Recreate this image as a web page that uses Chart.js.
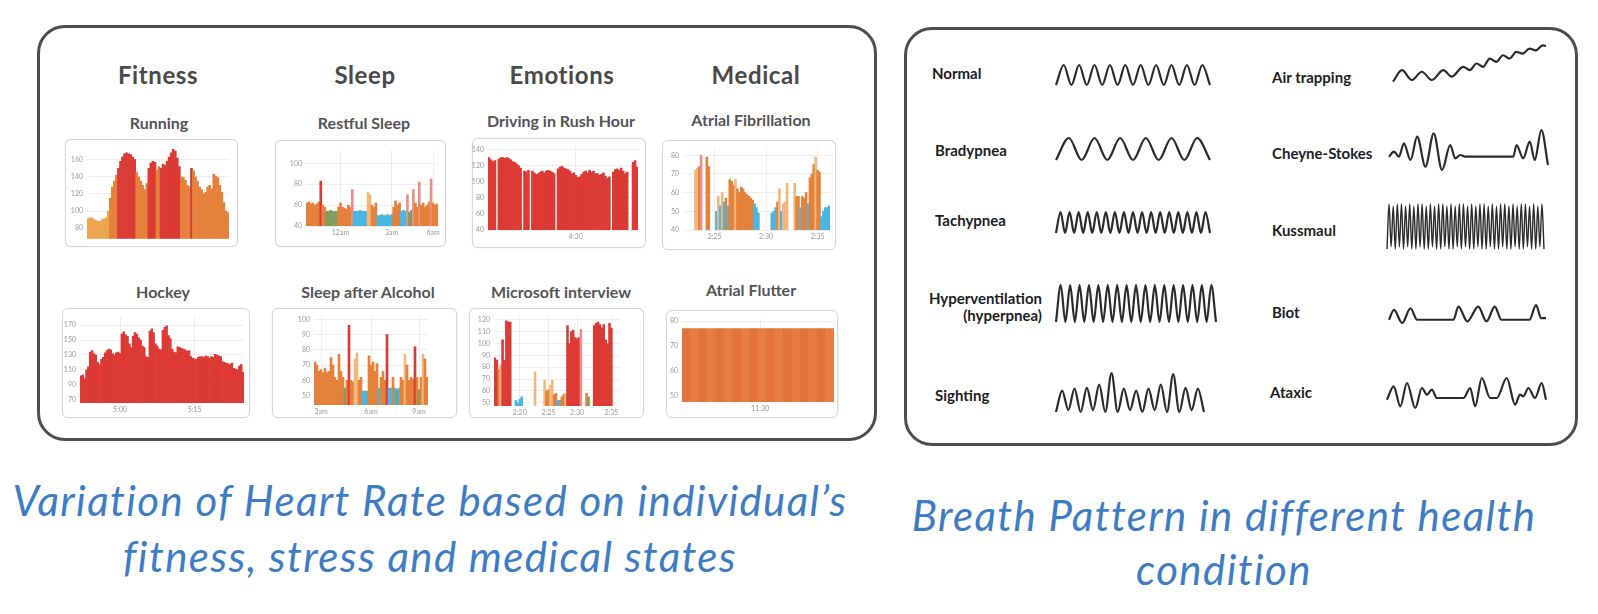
<!DOCTYPE html>
<html><head><meta charset="utf-8">
<script src="https://cdn.jsdelivr.net/npm/chart.js@4.4.1/dist/chart.umd.min.js"></script>
<style>
html,body{margin:0;padding:0;background:#fff;}
#page{position:relative;width:1598px;height:614px;overflow:hidden;font-family:Lato,'Open Sans',sans-serif;}
.panel{position:absolute;border:3px solid #4d4d4d;border-radius:28px;box-sizing:border-box;}
.box{position:absolute;border:1px solid #d6d6d6;border-radius:6px;box-sizing:border-box;background:#fff;box-shadow:0 0 2px rgba(0,0,0,.10);}
.t{position:absolute;white-space:nowrap;line-height:1.2;}
canvas{position:absolute;}
</style></head><body><div id="page"></div>
<script>
// ---------------- DATA: heart-rate mini charts ----------------
const runningHR = [91,92,92,90,89,88,88,90,91,92,100,115,128,135,142,150,158,163,167,168,167,166,163,160,145,140,135,130,125,132,150,156,158,157,148,152,150,155,153,158,163,168,172,170,162,152,140,139,136,130,128,150,147,140,135,128,125,120,122,128,130,126,143,141,139,130,122,110,100,98];
const runningZones = [[11,'L'],[4,'O'],[9,'R'],[6,'O'],[4,'R'],[2,'O'],[10,'R'],[5,'O'],[1,'R'],[18,'O']];
const runningYTicks = [80,100,120,140,160];
const runningXTicks = [];

const restfulHR = [62,63,61,62,60,61,63,83,60,58,54,54,55,54,54,54,58,62,58,57,56,60,58,75,54,54,54,55,54,54,54,72,70,60,58,62,50,50,51,50,50,51,50,51,58,64,60,62,54,55,54,70,53,55,75,62,58,82,60,62,58,60,63,85,62,60,61];
const restfulZones = [[7,'O'],[1,'R'],[2,'O'],[6,'G'],[7,'O'],[1,'P'],[7,'B'],[2,'Y'],[3,'O'],[8,'B'],[4,'O'],[3,'B'],[1,'P'],[2,'G'],[1,'P'],[2,'O'],[1,'P'],[5,'O'],[1,'P'],[3,'O']];
const restfulYTicks = [40,60,80,100];
const restfulXTicks = [[17,'12am'],[43,'3am'],[64,'6am']];

const drivingHR = [130,127,125,126,null,128,130,130,129,130,129,127,125,124,122,120,117,null,113,112,114,null,113,111,109,110,112,113,111,113,114,113,112,110,null,116,118,119,117,116,115,113,110,111,108,105,106,109,112,113,111,114,112,113,110,110,108,109,111,107,104,106,null,112,115,116,114,117,113,110,112,null,null,124,126,118];
const drivingZones = [[76,'R']];
const drivingYTicks = [40,60,80,100,120,140];
const drivingXTicks = [[44,'4:30']];

const afibHR = [null,null,null,null,null,null,72,73,74,80,null,null,79,74,null,null,null,50,58,53,60,55,57,53,67,66,64,67,62,60,63,62,60,59,58,57,56,54,52,49,null,null,null,null,null,null,49,50,52,55,62,50,54,55,65,null,null,null,65,58,58,52,58,57,60,54,68,70,75,79,72,71,47,50,52,52,53];
const afibZones = [[6,'-'],[2,'Y'],[1,'O'],[1,'P'],[2,'-'],[2,'O'],[3,'-'],[1,'B'],[1,'Y'],[1,'B'],[1,'Y'],[1,'B'],[1,'O'],[1,'B'],[3,'O'],[1,'Y'],[2,'O'],[7,'O'],[3,'B'],[6,'-'],[3,'B'],[1,'O'],[1,'Y'],[1,'B'],[1,'Y'],[1,'Y'],[1,'Y'],[1,'-'],[2,'-'],[1,'Y'],[1,'O'],[1,'O'],[1,'B'],[2,'O'],[1,'O'],[1,'B'],[2,'O'],[1,'O'],[1,'Y'],[2,'O'],[3,'B'],[2,'B']];
const afibYTicks = [40,50,60,70,80];
const afibXTicks = [[16,'2:25'],[43,'2:30'],[70,'2:35']];

const hockeyHR = [102,103,98,110,114,134,136,132,130,120,117,124,127,133,136,138,137,132,130,133,134,132,158,161,157,155,145,140,155,160,158,153,150,142,140,128,127,162,165,160,145,142,138,137,163,167,169,156,152,138,134,133,141,140,139,138,137,135,136,128,126,125,124,127,128,128,127,129,128,126,128,127,131,130,129,128,121,120,119,118,117,119,112,111,110,115,117,107];
const hockeyZones = [[88,'R']];
const hockeyYTicks = [70,90,110,130,150,170];
const hockeyXTicks = [[21,'5:00'],[61,'5:15']];

const alcoholHR = [72,70,66,67,65,68,65,66,75,70,62,60,77,66,62,55,60,96,60,59,74,78,60,62,53,53,53,76,70,72,66,71,55,62,66,60,90,55,55,62,55,54,55,62,60,77,70,60,62,61,82,62,54,62,77,74,62];
const alcoholZones = [[15,'O'],[1,'G'],[1,'O'],[1,'R'],[2,'O'],[2,'Y'],[2,'O'],[3,'B'],[5,'O'],[1,'B'],[3,'O'],[1,'R'],[2,'B'],[1,'O'],[1,'B'],[1,'G'],[1,'B'],[2,'O'],[1,'Y'],[4,'O'],[1,'R'],[1,'O'],[1,'G'],[1,'O'],[1,'Y'],[2,'O']];
const alcoholYTicks = [50,60,70,80,90,100];
const alcoholXTicks = [[3,'3am'],[28,'6am'],[52,'9am']];

const interviewHR = [88,86,78,82,103,86,119,118,118,null,null,52,50,53,55,null,null,null,null,null,null,76,null,null,null,null,69,60,61,65,69,57,58,52,52,55,57,58,115,100,110,111,105,104,105,112,null,null,58,55,null,null,115,117,118,116,113,116,103,100,117,113,null,null,null,null];
const interviewZones = [[2,'R'],[1,'O'],[1,'Y'],[5,'R'],[2,'-'],[4,'B'],[6,'-'],[1,'Y'],[4,'-'],[1,'Y'],[2,'O'],[1,'Y'],[1,'Y'],[2,'O'],[2,'B'],[2,'O'],[1,'Y'],[7,'R'],[1,'P'],[2,'-'],[1,'O'],[1,'G'],[2,'-'],[10,'R'],[4,'-']];
const interviewYTicks = [50,60,70,80,90,100,110,120];
const interviewXTicks = [[13,'2:20'],[28,'2:25'],[43,'2:30'],[61,'2:35']];

const flutterHR = [77,77,77,77,77,77,77,77,77,77,77,77,77,77,77,77,77,77,77,77,77,77,77,77,77,77,77,77,77,77,77,77,77,77,77,77];
const flutterZones = "FFffFFffFFffFFffFFffFFffFFffFFffFFff";
const flutterYTicks = [50,60,70,80];
const flutterXTicks = [[18,'11:30']];

// ---------------- DATA: breath patterns ----------------
const normalBreath = [0,1,0,1,0,1,0,1,0,1,0,1,0,1,0,1,0,1,0,1,0];
const bradypneaBreath = [0,1,0,1,0,1,0,1,0,1,0,1,0];
const tachypneaBreath = [0,1,0,1,0,1,0,1,0,1,0,1,0,1,0,1,0,1,0,1,0,1,0,1,0,1,0,1,0,1,0,1,0,1,0];
const hyperpneaBreath = [0,1,0,1,0,1,0,1,0,1,0,1,0,1,0,1,0,1,0,1,0,1,0,1,0,1,0,1,0,1,0,1,0,1,0];
const sightingBreath = [0,.55,.05,.6,0,.62,.05,.7,0,1,0,.6,.05,.55,0,.6,.05,.7,0,.97,0,.62,.05,.6,0];
const kussmaulBreath = [0,1,.05,.95,0,1,.05,1,0,.95,.05,1,0,.95,0,1,.05,1,0,.95,0,1,.05,.95,0,1,0,1,.05,.95,0,1,0,.95,.05,1,0,1,.05,.95,0,1,0,.95,.05,1,0,1,0,.95,.05,1,0,.95,0,1,.05,1,0,.95,0,1,.05,.95,0,1,0,1,.05,.95,0,1,0,.95,.05,1,0];
const airTrapTime = [0,2.7,5.7,8.7,11.7,15.2,17.7,21.2,23.2,25.2,27.2,29.2,31.2,33.2,35.2,37.2,39.2,41.2,43.2,45.2,46.2];
const airTrapVolume = [0.5,4,1,3.5,1,4,2,5,4,6,5,7.5,6.5,8.5,7.5,9.5,9,10.5,10,11.5,11.3];
const cheyneTime = [0,1.5,3,4.5,6.5,8.5,11,13.5,16,18.5,20,21.5,23,37.5,38.5,40.5,42.5,44,46,48];
const cheyneVolume = [4,5.5,4,8,3,10,1,11,0,7.5,3.5,4.5,4,4,7.5,3.5,8.5,3,12,1.5];
const biotTime = [0,1.5,4,6.5,8.5,19.5,21,23.7,27,29.5,32,34,42.5,44.5,46,47.5];
const biotVolume = [1,4,0,4.5,1,1,5,0.5,5,0.5,5,1,1,5.5,1.5,1.5];
const ataxicTime = [0,2,4,6,8.5,10.5,12,13.5,15,23,25,26.5,28.5,31,33,36,38.5,40,41,42.5,44.5,46.5,47.8];
const ataxicVolume = [2.5,6.5,.5,7.5,0,6,4,5.5,3,3,6,.5,9,3,3,9,1,4,3.5,6,3,7.5,2.5];

// ---------------- rendering ----------------
const page = document.getElementById('page');
const palette = {L:'#eba64f',O:'#e4813a',R:'#dc3a35',B:'#4ab6e2',G:'#7f9c60',P:'#ee8b85',Y:'#f3b77c',F:'#e2743a',f:'#e67e43','-':'#ffffff'};
function expandZones(z){
  if (typeof z === 'string') return z.split('');
  const out=[]; z.forEach(([n,c])=>{for(let i=0;i<n;i++) out.push(c);}); return out;
}
function addDiv(cls,l,t,w,h){const d=document.createElement('div');d.className=cls;Object.assign(d.style,{left:l+'px',top:t+'px',width:w+'px',height:h+'px'});page.appendChild(d);return d;}
function addText(txt,x,y,font,color,align,ls){
  const d=document.createElement('div');d.className='t';d.textContent=txt;
  d.style.left=x+'px';d.style.top=y+'px';d.style.font=font;d.style.color=color;
  if(ls) d.style.letterSpacing=ls+'px';
  const tx=align==='center'?'-50%':align==='right'?'-100%':'0';
  d.style.transform='translate('+tx+',-50%)';page.appendChild(d);return d;
}
function addCanvas(l,t,w,h){const c=document.createElement('canvas');c.width=w;c.height=h;c.style.left=l+'px';c.style.top=t+'px';c.style.width=w+'px';c.style.height=h+'px';page.appendChild(c);return c;}

function miniChart(s){
  const [bl,bt,br,bb]=s.box,[al,at,ar,ab]=s.area;
  addDiv('box',bl,bt,br-bl,bb-bt);
  const c=addCanvas(bl,bt,br-bl,bb-bt);
  const labels=s.values.map((_,i)=>{const f=s.xTicks.find(p=>p[0]===i);return f?f[1]:'';});
  const colors=expandZones(s.zones).map(z=>palette[z]||palette.O);
  const hasX=s.xTicks.length>0;
  new Chart(c,{type:'bar',
    data:{labels,datasets:[{data:s.values,backgroundColor:colors,borderWidth:0,barPercentage:1,categoryPercentage:1}]},
    options:{responsive:false,animation:false,events:[],
      plugins:{legend:{display:false},tooltip:{enabled:false}},
      layout:{padding:{top:at-bt,right:br-ar,left:0,bottom:0}},
      scales:{
        x:{grid:{display:hasX,offset:false,color:'#ededed',drawTicks:false},border:{display:false},
           ticks:{display:hasX,autoSkip:false,maxRotation:0,padding:3,font:{size:7,family:'Lato'},color:'#9a9a9a'},
           afterBuildTicks:a=>{a.ticks=s.xTicks.map(p=>({value:p[0]}));},
           afterFit:a=>{a.height=bb-ab;}},
        y:{min:s.min,max:s.max,grid:{color:'#eeeeee',drawTicks:false},border:{display:false},
           ticks:{padding:4,font:{size:7,family:'Lato'},color:'#9a9a9a'},
           afterBuildTicks:a=>{a.ticks=s.yTicks.map(v=>({value:v}));},
           afterFit:a=>{a.width=al-bl;}}
      }}});
}

function wave(s){
  const [l,t,r,b]=s.rect;
  const c=addCanvas(l,t,r-l,b-t);
  const linear=!!s.x;
  const data=linear?s.y.map((v,i)=>({x:s.x[i],y:v})):s.y;
  new Chart(c,{type:'line',
    data:{labels:linear?undefined:s.y.map((_,i)=>i),datasets:[{data,borderColor:'#2b2b2b',borderWidth:s.lw||2.2,pointRadius:0,cubicInterpolationMode:'monotone',fill:false,clip:false}]},
    options:{responsive:false,animation:false,events:[],
      plugins:{legend:{display:false},tooltip:{enabled:false}},
      layout:{padding:2},
      scales:{x:linear?{type:'linear',display:false,min:s.x[0],max:s.x[s.x.length-1]}:{display:false,offset:false},
              y:{display:false,min:s.min,max:s.max}}}});
}

// panels
addDiv('panel',37,25,840,416);
addDiv('panel',904,27,674,419);

// left headers
const hFont='700 24px Lato', sFont='700 16px Lato';
addText('Fitness',158,74,hFont,'#4a4a4a','center',0.6);
addText('Sleep',365,74,hFont,'#4a4a4a','center',0.6);
addText('Emotions',562,74,hFont,'#4a4a4a','center',0.6);
addText('Medical',756,74,hFont,'#4a4a4a','center',0.6);
addText('Running',159,122,sFont,'#555','center');
addText('Restful Sleep',364,122,sFont,'#555','center');
addText('Driving in Rush Hour',561,120,sFont,'#555','center');
addText('Atrial Fibrillation',751,119,sFont,'#555','center');
addText('Hockey',163,291,sFont,'#555','center');
addText('Sleep after Alcohol',368,291,sFont,'#555','center');
addText('Microsoft interview',561,291,sFont,'#555','center');
addText('Atrial Flutter',751,289,sFont,'#555','center');

miniChart({box:[65,139,238,247],area:[87,145,229,240],values:runningHR,zones:runningZones,yTicks:runningYTicks,xTicks:runningXTicks,min:67.6,max:174.6});
miniChart({box:[275,140,446,247],area:[306,150,438,226],values:restfulHR,zones:restfulZones,yTicks:restfulYTicks,xTicks:restfulXTicks,min:40,max:112.8});
miniChart({box:[472,138,646,248],area:[488,145,638,230],values:drivingHR,zones:drivingZones,yTicks:drivingYTicks,xTicks:drivingXTicks,min:40,max:144});
miniChart({box:[662,140,836,250],area:[683,145,830,230],values:afibHR,zones:afibZones,yTicks:afibYTicks,xTicks:afibXTicks,min:40,max:83.8});
miniChart({box:[62,308,250,418],area:[80,315,244,403],values:hockeyHR,zones:hockeyZones,yTicks:hockeyYTicks,xTicks:hockeyXTicks,min:65.6,max:182});
miniChart({box:[272,308,457,418],area:[314,310,428,405],values:alcoholHR,zones:alcoholZones,yTicks:alcoholYTicks,xTicks:alcoholXTicks,min:43.9,max:102});
miniChart({box:[469,308,644,418],area:[494,312,620,406],values:interviewHR,zones:interviewZones,yTicks:interviewYTicks,xTicks:interviewXTicks,min:47.3,max:123});
miniChart({box:[666,310,838,418],area:[682,316,834,402],values:flutterHR,zones:flutterZones,yTicks:flutterYTicks,xTicks:flutterXTicks,min:47.4,max:81.2});

// right labels
const bFont='700 15px Lato', bCol='#1e1e1e';
addText('Normal',932,73,bFont,bCol,'left');
addText('Bradypnea',935,150,bFont,bCol,'left');
addText('Tachypnea',935,220,bFont,bCol,'left');
addText('Hyperventilation',1042,298,bFont,bCol,'right');
addText('(hyperpnea)',1042,315,bFont,bCol,'right');
addText('Sighting',935,395,bFont,bCol,'left');
addText('Air trapping',1272,77,bFont,bCol,'left');
addText('Cheyne-Stokes',1272,153,bFont,bCol,'left');
addText('Kussmaul',1272,230,bFont,bCol,'left');
addText('Biot',1272,312,bFont,bCol,'left');
addText('Ataxic',1270,392,bFont,bCol,'left');

wave({rect:[1054,63,1212,87],y:normalBreath,min:0,max:1});
wave({rect:[1054,136,1212,162],y:bradypneaBreath,min:0,max:1});
wave({rect:[1054,210,1212,235],y:tachypneaBreath,min:0,max:1});
wave({rect:[1054,283,1218,324],y:hyperpneaBreath,min:0,max:1});
wave({rect:[1054,371,1206,414],y:sightingBreath,min:0,max:1});
wave({rect:[1391,43,1548,84],x:airTrapTime,y:airTrapVolume,min:0.4,max:11.6});
wave({rect:[1387,128,1550,172],x:cheyneTime,y:cheyneVolume,min:0,max:12});
wave({rect:[1385,202,1546,251],y:kussmaulBreath,min:0,max:1,lw:1.4});
wave({rect:[1387,303,1548,325],x:biotTime,y:biotVolume,min:0,max:5.5});
wave({rect:[1385,376,1548,410],x:ataxicTime,y:ataxicVolume,min:0,max:9});

// captions
const cFont='italic 400 42px Lato', cCol='#3e7cc4';
addText('Variation of Heart Rate based on individual\u2019s',430,500,cFont,cCol,'center',1.4);
addText('fitness, stress and medical states',430,556,cFont,cCol,'center',1.4);
addText('Breath Pattern in different health',1224,515,cFont,cCol,'center',1.4);
addText('condition',1224,569,cFont,cCol,'center',1.4);
</script></body></html>
